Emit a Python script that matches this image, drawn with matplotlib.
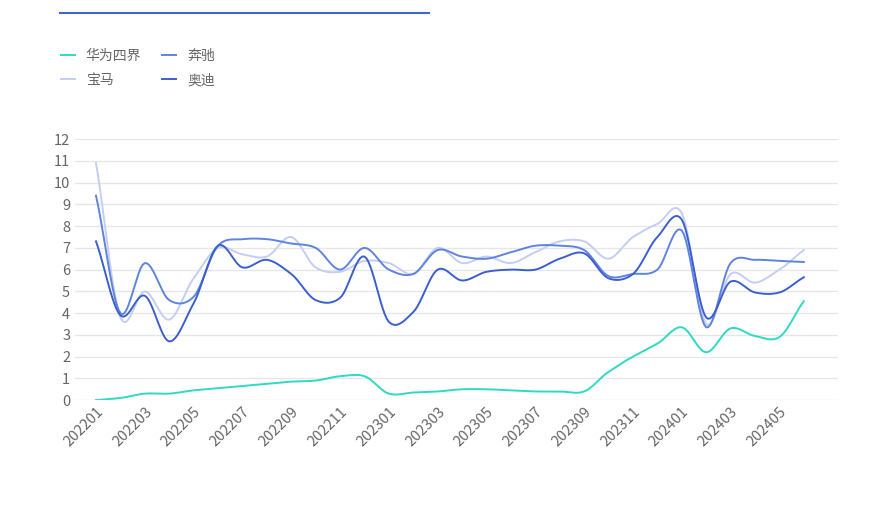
import matplotlib
matplotlib.use("Agg")
import matplotlib.pyplot as plt
import numpy as np

plt.rcParams['font.family'] = ['Noto Sans CJK SC', 'DejaVu Sans']

months = [f"{y}{m:02d}" for y in (2022, 2023, 2024) for m in range(1, 13)][:30]
huawei = [0, 0.1, 0.3, 0.3, 0.45, 0.55, 0.65, 0.75, 0.85, 0.9, 1.1, 1.1, 0.3, 0.35, 0.4,
          0.5, 0.5, 0.45, 0.4, 0.4, 0.4, 1.3, 2.0, 2.6, 3.35, 2.2, 3.3, 2.95, 2.9, 4.55]
benz = [9.4, 4.0, 6.3, 4.6, 4.75, 7.1, 7.4, 7.4, 7.2, 7.0, 6.0, 7.0, 6.0, 5.8, 6.9,
        6.6, 6.5, 6.8, 7.1, 7.1, 6.9, 5.7, 5.8, 6.0, 7.8, 3.35, 6.3, 6.45, 6.4, 6.35]
bmw = [10.9, 3.8, 5.0, 3.7, 5.6, 7.0, 6.7, 6.6, 7.5, 6.1, 5.9, 6.4, 6.3, 5.8, 7.0,
       6.3, 6.6, 6.3, 6.8, 7.3, 7.3, 6.5, 7.5, 8.1, 8.6, 3.5, 5.8, 5.4, 6.0, 6.9]
audi = [7.3, 3.9, 4.8, 2.7, 4.45, 7.1, 6.1, 6.45, 5.8, 4.6, 4.7, 6.6, 3.6, 4.05, 6.0,
        5.5, 5.9, 6.0, 6.0, 6.5, 6.75, 5.6, 5.8, 7.5, 8.3, 3.8, 5.45, 4.95, 4.95, 5.65]

series = [("华为四界", huawei, "#2fd9c4"), ("宝马", bmw, "#c3cef2"),
          ("奔驰", benz, "#5f84e0"), ("奥迪", audi, "#3b5fcf")]

def smooth(y, n=12):
    y = np.asarray(y, float)
    x = np.arange(len(y))
    m = np.gradient(y) * 0.9
    xs, ys = [], []
    for i in range(len(y) - 1):
        t = np.linspace(0, 1, n, endpoint=False)
        h00 = 2*t**3 - 3*t**2 + 1; h10 = t**3 - 2*t**2 + t
        h01 = -2*t**3 + 3*t**2; h11 = t**3 - t**2
        xs.append(x[i] + t)
        ys.append(h00*y[i] + h10*m[i] + h01*y[i+1] + h11*m[i+1])
    xs.append([x[-1]]); ys.append([y[-1]])
    return np.concatenate(xs), np.concatenate(ys)

fig = plt.figure(figsize=(8.76, 5.19), dpi=100)
ax = fig.add_axes([0.0856, 0.229, 0.871, 0.503])
for name, vals, c in series:
    sx, sy = smooth(vals)
    ax.plot(sx, sy, color=c, lw=1.4, label=name)
ax.set_xlim(-0.86, 30.4)
ax.set_ylim(0, 12)
ax.set_yticks(range(13))
ax.set_xticks(range(0, 30, 2))
ax.set_xticklabels(months[::2], rotation=45, ha='right', rotation_mode='anchor')
ax.tick_params(length=0, colors='#666666', labelsize=10.5)
ax.grid(axis='y', color='#e6e6e6', lw=0.9)
for s in ax.spines.values():
    s.set_visible(False)
ax.set_axisbelow(True)

handles, labels = ax.get_legend_handles_labels()
fig.legend(handles, labels, ncol=2, loc='upper left',
           bbox_to_anchor=(0.055, 0.93), frameon=False, fontsize=10,
           handlelength=1.0, columnspacing=1.5, labelspacing=0.75,
           labelcolor='#666666')

fig.add_artist(plt.Line2D([0.068, 0.49], [0.975, 0.975], color='#3f66c8', lw=1.5,
                          transform=fig.transFigure))
fig.savefig("out.png", dpi=100)
